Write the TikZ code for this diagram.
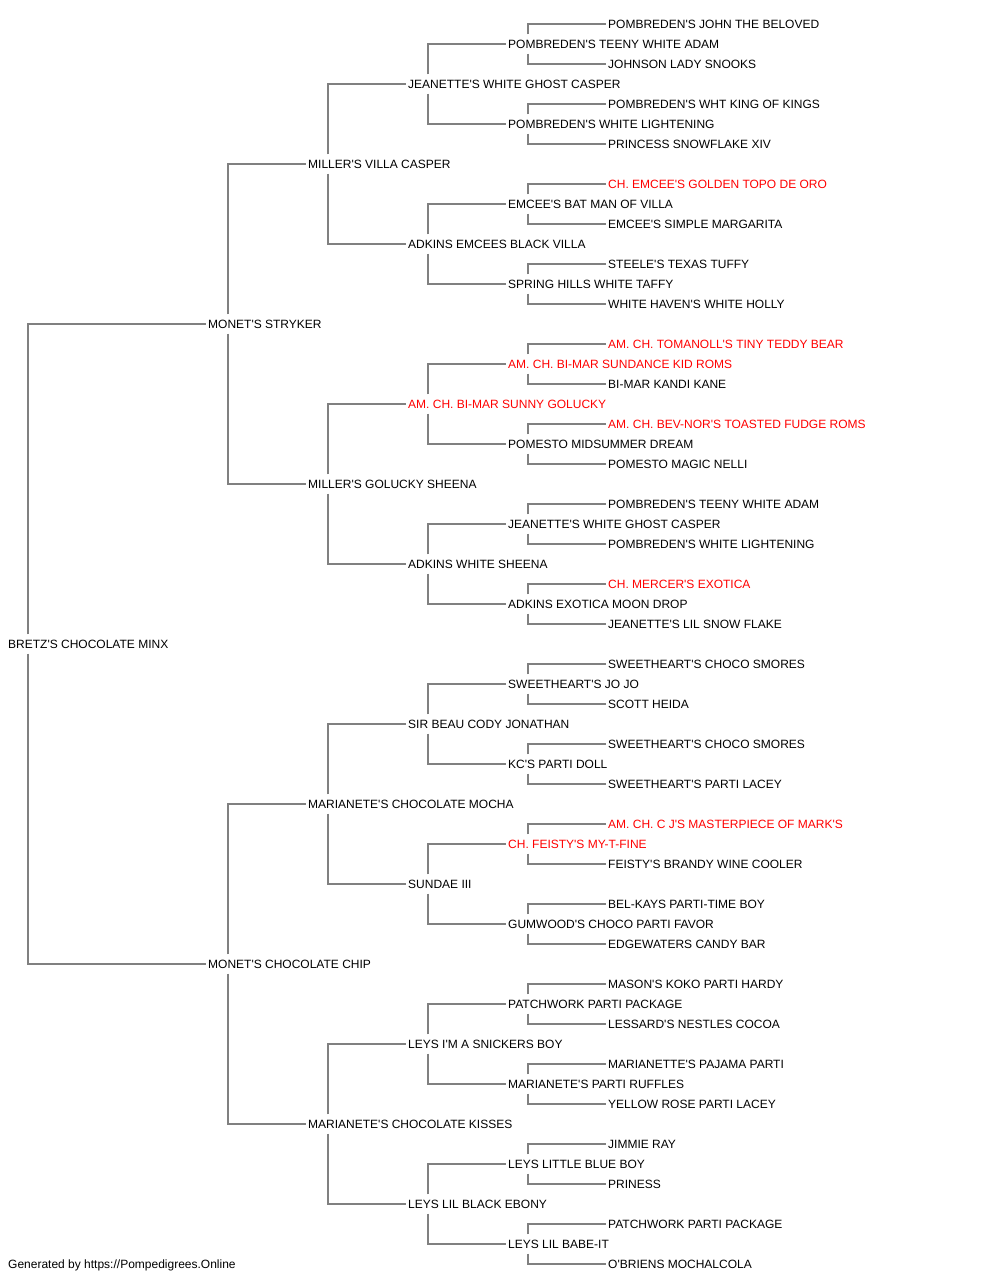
\documentclass[tikz,border=0pt]{standalone}
\usepackage{fontspec}
\newfontfamily\dogfont{Liberation Sans}
\definecolor{linkgray}{RGB}{128,128,128}
\definecolor{champ}{RGB}{255,0,0}
\begin{document}
\begin{tikzpicture}[x=1pt,y=1pt,
  dog/.style={anchor=west,inner xsep=2pt,inner ysep=0pt,minimum height=19pt,
    text height=8.6pt,text depth=0pt,font=\dogfont\fontsize{12pt}{14pt}\selectfont,text=black},
  red/.style={dog,text=champ},
  link/.style={draw=linkgray,line width=1.6pt}]
\useasboundingbox (0,0) rectangle (1000,-1280);
% generation x positions (node west = text x - 2)
\node[dog] (n0)  at (606,-24)  {POMBREDEN'S JOHN THE BELOVED};
\node[dog] (n1)  at (506,-44)  {POMBREDEN'S TEENY WHITE ADAM};
\node[dog] (n2)  at (606,-64)  {JOHNSON LADY SNOOKS};
\node[dog] (n3)  at (406,-84)  {JEANETTE'S WHITE GHOST CASPER};
\node[dog] (n4)  at (606,-104) {POMBREDEN'S WHT KING OF KINGS};
\node[dog] (n5)  at (506,-124) {POMBREDEN'S WHITE LIGHTENING};
\node[dog] (n6)  at (606,-144) {PRINCESS SNOWFLAKE XIV};
\node[dog] (n7)  at (306,-164) {MILLER'S VILLA CASPER};
\node[red] (n8)  at (606,-184) {CH. EMCEE'S GOLDEN TOPO DE ORO};
\node[dog] (n9)  at (506,-204) {EMCEE'S BAT MAN OF VILLA};
\node[dog] (n10) at (606,-224) {EMCEE'S SIMPLE MARGARITA};
\node[dog] (n11) at (406,-244) {ADKINS EMCEES BLACK VILLA};
\node[dog] (n12) at (606,-264) {STEELE'S TEXAS TUFFY};
\node[dog] (n13) at (506,-284) {SPRING HILLS WHITE TAFFY};
\node[dog] (n14) at (606,-304) {WHITE HAVEN'S WHITE HOLLY};
\node[dog] (n15) at (206,-324) {MONET'S STRYKER};
\node[red] (n16) at (606,-344) {AM. CH. TOMANOLL'S TINY TEDDY BEAR};
\node[red] (n17) at (506,-364) {AM. CH. BI-MAR SUNDANCE KID ROMS};
\node[dog] (n18) at (606,-384) {BI-MAR KANDI KANE};
\node[red] (n19) at (406,-404) {AM. CH. BI-MAR SUNNY GOLUCKY};
\node[red] (n20) at (606,-424) {AM. CH. BEV-NOR'S TOASTED FUDGE ROMS};
\node[dog] (n21) at (506,-444) {POMESTO MIDSUMMER DREAM};
\node[dog] (n22) at (606,-464) {POMESTO MAGIC NELLI};
\node[dog] (n23) at (306,-484) {MILLER'S GOLUCKY SHEENA};
\node[dog] (n24) at (606,-504) {POMBREDEN'S TEENY WHITE ADAM};
\node[dog] (n25) at (506,-524) {JEANETTE'S WHITE GHOST CASPER};
\node[dog] (n26) at (606,-544) {POMBREDEN'S WHITE LIGHTENING};
\node[dog] (n27) at (406,-564) {ADKINS WHITE SHEENA};
\node[red] (n28) at (606,-584) {CH. MERCER'S EXOTICA};
\node[dog] (n29) at (506,-604) {ADKINS EXOTICA MOON DROP};
\node[dog] (n30) at (606,-624) {JEANETTE'S LIL SNOW FLAKE};
\node[dog] (n31) at (6,-644)   {BRETZ'S CHOCOLATE MINX};
\node[dog] (n32) at (606,-664) {SWEETHEART'S CHOCO SMORES};
\node[dog] (n33) at (506,-684) {SWEETHEART'S JO JO};
\node[dog] (n34) at (606,-704) {SCOTT HEIDA};
\node[dog] (n35) at (406,-724) {SIR BEAU CODY JONATHAN};
\node[dog] (n36) at (606,-744) {SWEETHEART'S CHOCO SMORES};
\node[dog] (n37) at (506,-764) {KC'S PARTI DOLL};
\node[dog] (n38) at (606,-784) {SWEETHEART'S PARTI LACEY};
\node[dog] (n39) at (306,-804) {MARIANETE'S CHOCOLATE MOCHA};
\node[red] (n40) at (606,-824) {AM. CH. C J'S MASTERPIECE OF MARK'S};
\node[red] (n41) at (506,-844) {CH. FEISTY'S MY-T-FINE};
\node[dog] (n42) at (606,-864) {FEISTY'S BRANDY WINE COOLER};
\node[dog] (n43) at (406,-884) {SUNDAE III};
\node[dog] (n44) at (606,-904) {BEL-KAYS PARTI-TIME BOY};
\node[dog] (n45) at (506,-924) {GUMWOOD'S CHOCO PARTI FAVOR};
\node[dog] (n46) at (606,-944) {EDGEWATERS CANDY BAR};
\node[dog] (n47) at (206,-964) {MONET'S CHOCOLATE CHIP};
\node[dog] (n48) at (606,-984) {MASON'S KOKO PARTI HARDY};
\node[dog] (n49) at (506,-1004) {PATCHWORK PARTI PACKAGE};
\node[dog] (n50) at (606,-1024) {LESSARD'S NESTLES COCOA};
\node[dog] (n51) at (406,-1044) {LEYS I'M A SNICKERS BOY};
\node[dog] (n52) at (606,-1064) {MARIANETTE'S PAJAMA PARTI};
\node[dog] (n53) at (506,-1084) {MARIANETE'S PARTI RUFFLES};
\node[dog] (n54) at (606,-1104) {YELLOW ROSE PARTI LACEY};
\node[dog] (n55) at (306,-1124) {MARIANETE'S CHOCOLATE KISSES};
\node[dog] (n56) at (606,-1144) {JIMMIE RAY};
\node[dog] (n57) at (506,-1164) {LEYS LITTLE BLUE BOY};
\node[dog] (n58) at (606,-1184) {PRINESS};
\node[dog] (n59) at (406,-1204) {LEYS LIL BLACK EBONY};
\node[dog] (n60) at (606,-1224) {PATCHWORK PARTI PACKAGE};
\node[dog] (n61) at (506,-1244) {LEYS LIL BABE-IT};
\node[dog] (n62) at (606,-1264) {O'BRIENS MOCHALCOLA};
\node[dog] (footer) at (6,-1264) {Generated by https://Pompedigrees.Online};
% connectors: parent -> sire (top) and dam (bottom)
\foreach \p/\d in {31/16,15/8,47/8,7/4,23/4,39/4,55/4,3/2,11/2,19/2,27/2,35/2,43/2,51/2,59/2,
  1/1,5/1,9/1,13/1,17/1,21/1,25/1,29/1,33/1,37/1,41/1,45/1,49/1,53/1,57/1,61/1}{
  \pgfmathtruncatemacro{\a}{\p-\d}
  \pgfmathtruncatemacro{\b}{\p+\d}
  \draw[link] ([xshift=22pt]n\p.north west) |- (n\a.west);
  \draw[link] ([xshift=22pt]n\p.south west) |- (n\b.west);
}
\end{tikzpicture}
\end{document}
